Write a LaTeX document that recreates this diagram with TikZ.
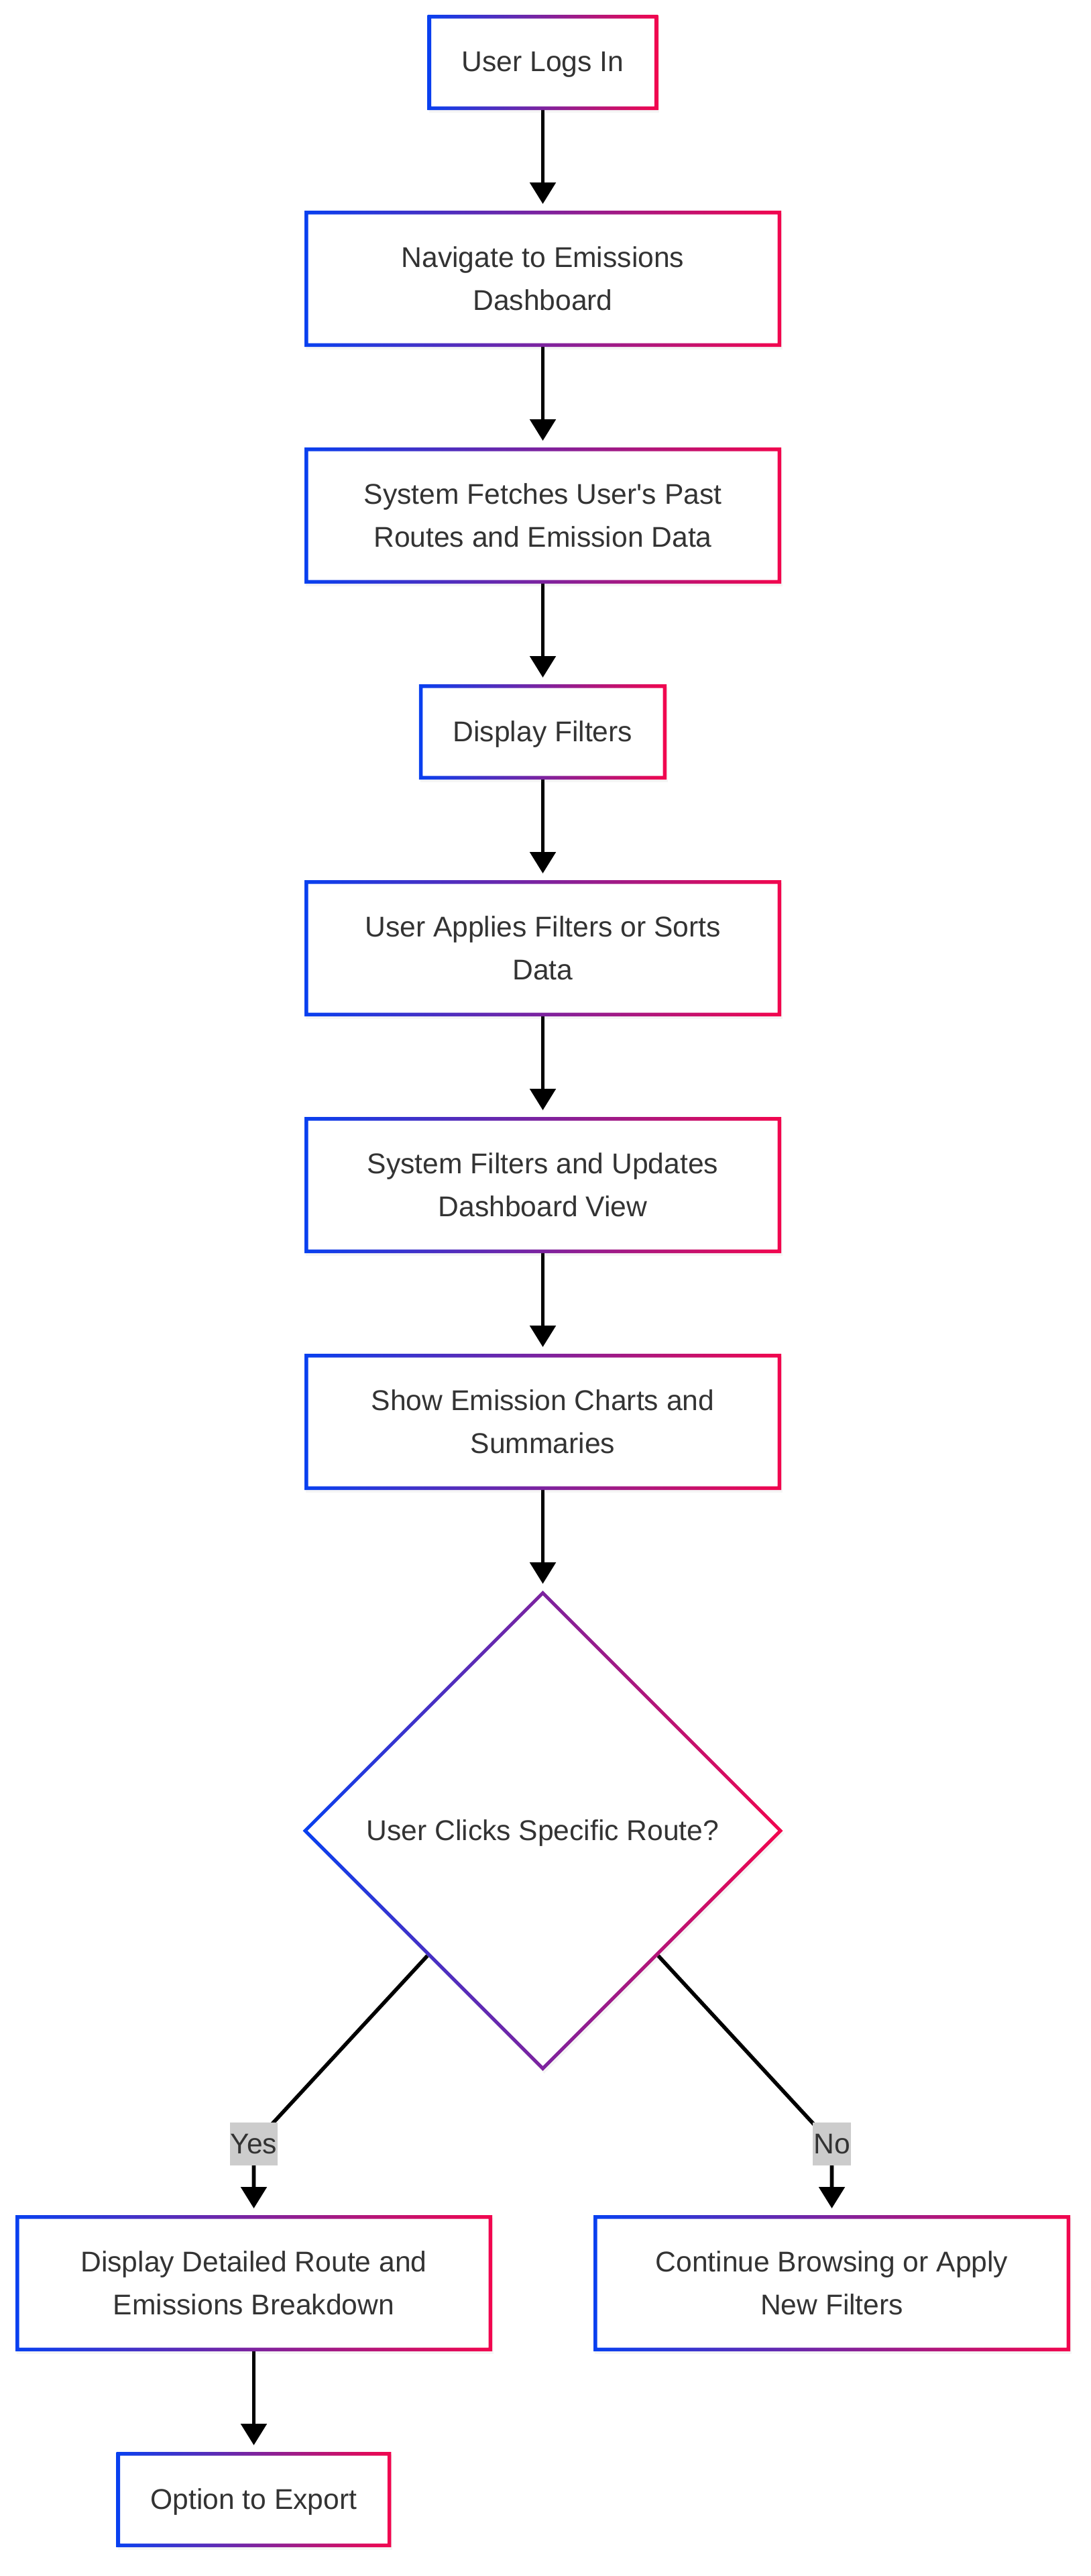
\documentclass[tikz,border=0pt]{standalone}
\usepackage{fontspec}
\setmainfont{Liberation Sans}
\usepackage{tikz}
\usetikzlibrary{
  arrows.meta,
  shapes.geometric,
  positioning,
  backgrounds,
  shadows
}
\definecolor{flBlue}{HTML}{0840F0}
\definecolor{flRed}{HTML}{F2064E}
\definecolor{flText}{HTML}{333333}
\definecolor{flLabel}{HTML}{CCCCCC}
\newcommand{\flfont}{\fontsize{21.3}{32}\selectfont}
\tikzset{
  flbase/.style={
    fill=white, font=\flfont, text=flText, align=center, outer sep=0pt,
    inner ysep=0pt,
    drop shadow={shadow xshift=1pt, shadow yshift=-2pt, opacity=0.08}
  },
  flnode/.style={flbase, inner xsep=25.5pt, minimum height=71pt, text depth=1pt},
  flwide/.style={flbase, minimum width=355.5pt, minimum height=101.5pt},
  fldecision/.style={flbase, diamond, aspect=1, inner sep=0pt, text depth=1pt, minimum width=358pt, minimum height=358pt},
  flframe/.style={left color=flBlue, right color=flRed, even odd rule},
  flow/.style={-{Triangle[length=16pt, width=19pt]}, line width=2.8pt, shorten >=5pt},
  edgelabel/.style={fill=flLabel, text=flText, font=\flfont, inner xsep=0.5pt, inner ysep=0pt, minimum height=32pt}
}

\begin{document}
\begin{tikzpicture}[x=1pt, y=1pt, node distance=75pt]
  \useasboundingbox (0,0) rectangle (813.5,-1920);
  \node[flnode] (login) at (404.75,-46.5) {User Logs In};
  \node[flwide, below=of login] (nav) {Navigate to Emissions\\Dashboard};
  \node[flwide, below=of nav] (fetch) {System Fetches User\textquotesingle s Past\\Routes and Emission Data};
  \node[flnode, below=of fetch] (filters) {Display Filters};
  \node[flwide, below=of filters] (apply) {User Applies Filters or Sorts\\Data};
  \node[flwide, below=of apply] (update) {System Filters and Updates\\Dashboard View};
  \node[flwide, below=of update] (charts) {Show Emission Charts and\\Summaries};
  \node[fldecision, below=of charts] (route) {User Clicks Specific Route?};
  \node[flwide, below=107.5pt of route, xshift=-215.5pt] (detail) {Display Detailed Route and\\Emissions Breakdown};
  \node[flwide, below=107.5pt of route, xshift=215.5pt] (browse) {Continue Browsing or Apply\\New Filters};
  \node[flnode, below=of detail] (export) {Option to Export};
  \node[edgelabel, above=37pt of detail] (yes) {Yes};
  \node[edgelabel, above=37pt of browse] (no) {No};

  \foreach \n in {login, nav, fetch, filters, apply, update, charts, detail, browse, export}
    \shade[flframe] (\n.south west) rectangle (\n.north east)
      ([shift={(2.75,2.75)}]\n.south west) rectangle ([shift={(-2.75,-2.75)}]\n.north east);
  \shade[flframe] (route.north) -- (route.east) -- (route.south) -- (route.west) -- cycle
    ([yshift=-3.6]route.north) -- ([xshift=-3.6]route.east) -- ([yshift=3.6]route.south) -- ([xshift=3.6]route.west) -- cycle;

  \begin{scope}[on background layer]
    \foreach \a/\b in {login/nav, nav/fetch, fetch/filters, filters/apply, apply/update, update/charts, charts/route, detail/export}
      \draw[flow] (\a) -- (\b);
    \draw[flow] (route) -- (yes.center) -- (detail);
    \draw[flow] (route) -- (no.center) -- (browse);
  \end{scope}
\end{tikzpicture}
\end{document}
